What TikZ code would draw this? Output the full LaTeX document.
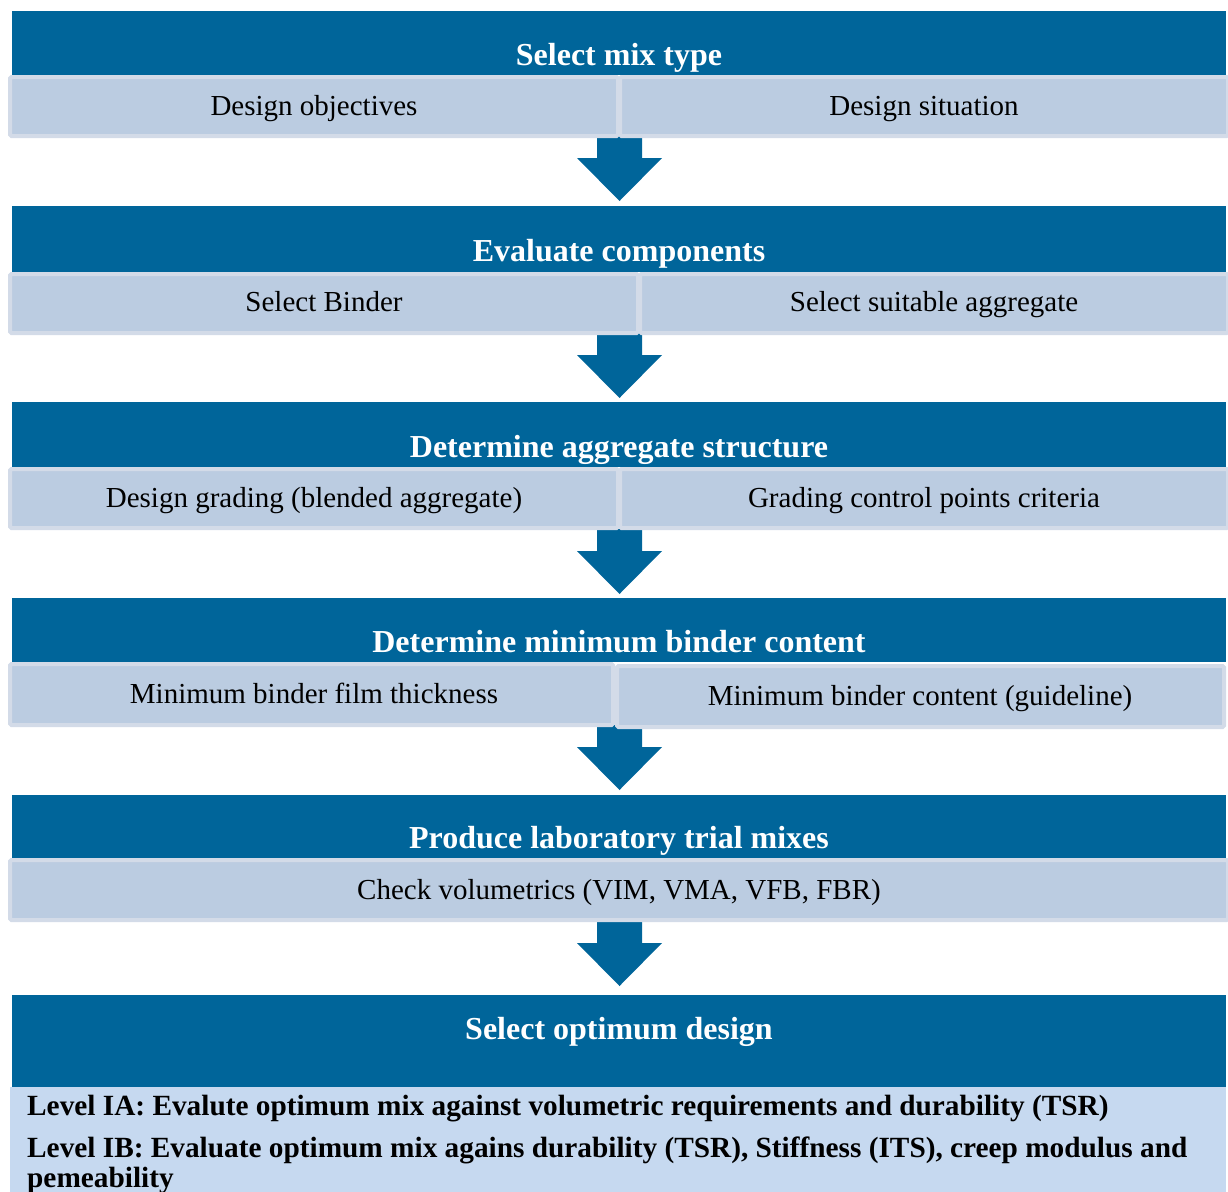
\documentclass[tikz,border=0pt]{standalone}
\usepackage{fontspec}
\setmainfont{Liberation Serif}
\definecolor{hdrblue}{HTML}{00659A}
\definecolor{lightfill}{HTML}{BBCCE1}
\definecolor{lightedge}{HTML}{D3DBE8}
\definecolor{botfill}{HTML}{C6D9F0}
\tikzset{
  hdrbox/.style={fill=hdrblue, draw=none, inner sep=0pt, outer sep=0pt, anchor=north west},
  ttl/.style={text=white, font=\fontsize{32}{38}\selectfont\bfseries, anchor=base, inner sep=0pt},
  subbox/.style={fill=lightfill, draw=lightedge, line width=4pt, inner sep=0pt, outer sep=0pt, anchor=north west, rounded corners=1.5pt, minimum height=59pt},
  body/.style={font=\fontsize{29}{34}\selectfont, anchor=base, inner sep=0pt},
  lvl/.style={font=\fontsize{29.3}{32}\selectfont\bfseries, anchor=base west, inner sep=0pt},
  blk/.style={fill=hdrblue, draw=none},
}
\newcommand\blkarrow[1]{\fill[blk] (#1) ++(-22.5,0) -- ++(45,0) -- ++(0,22) -- ++(20,0) -- ++(-42.5,43) -- ++(-42.5,-43) -- ++(20,0) -- cycle;}
\begin{document}
\begin{tikzpicture}[x=1pt,y=-1pt]
\useasboundingbox (0,0) rectangle (1228,1191);
% arrows (behind boxes)
\coordinate (a1) at (619.5,136);
\coordinate (a2) at (619.5,333);
\coordinate (a3) at (619.5,529);
\coordinate (a4) at (619.5,725);
\coordinate (a5) at (619.5,921);
\blkarrow{a1}
\blkarrow{a2}
\blkarrow{a3}
\blkarrow{a4}
\blkarrow{a5}
% section 1
\node[hdrbox, minimum width=1214pt, minimum height=64pt] (h1) at (12,11) {};
\node[ttl] (t1) at (619,65) {Select mix type};
\node[subbox, minimum width=608pt] (b1l) at (10,77) {};
\node[subbox, minimum width=608pt] (b1r) at (620,77) {};
\node[body] (x1l) at (314,115) {Design objectives};
\node[body] (x1r) at (924,115) {Design situation};
% section 2
\node[hdrbox, minimum width=1214pt, minimum height=66pt] (h2) at (12,206) {};
\node[ttl] (t2) at (619,261) {Evaluate components};
\node[subbox, minimum width=628pt] (b2l) at (10,274) {};
\node[subbox, minimum width=588pt] (b2r) at (640,274) {};
\node[body] (x2l) at (324,311) {Select Binder};
\node[body] (x2r) at (934,311) {Select suitable aggregate};
% section 3
\node[hdrbox, minimum width=1214pt, minimum height=65pt] (h3) at (12,402) {};
\node[ttl] (t3) at (619,457) {Determine aggregate structure};
\node[subbox, minimum width=608pt] (b3l) at (10,469) {};
\node[subbox, minimum width=608pt] (b3r) at (620,469) {};
\node[body] (x3l) at (314,507) {Design grading (blended aggregate)};
\node[body] (x3r) at (924,507) {Grading control points criteria};
% section 4
\node[hdrbox, minimum width=1214pt, minimum height=64pt] (h4) at (12,598) {};
\node[ttl] (t4) at (619,652) {Determine minimum binder content};
\node[subbox, minimum width=603pt, minimum height=61pt] (b4l) at (10,664) {};
\node[subbox, minimum width=607pt, minimum height=61pt] (b4r) at (617,666) {};
\node[body] (x4l) at (314,703) {Minimum binder film thickness};
\node[body] (x4r) at (920,705) {Minimum binder content (guideline)};
% section 5
\node[hdrbox, minimum width=1214pt, minimum height=63pt] (h5) at (12,795) {};
\node[ttl] (t5) at (619,848) {Produce laboratory trial mixes};
\node[subbox, minimum width=1218pt, minimum height=60pt] (b5) at (10,860) {};
\node[body] (x5) at (619,899) {Check volumetrics (VIM, VMA, VFB, FBR)};
% section 6
\node[hdrbox, minimum width=1214pt, minimum height=92pt] (h6) at (12,995) {};
\node[ttl] (t6) at (619,1039) {Select optimum design};
\node[anchor=north west, fill=botfill, draw=none, inner sep=0pt, outer sep=0pt, minimum width=1216pt, minimum height=110pt] (b6) at (10,1087) {};
\node[lvl] (l1) at (27,1115) {Level IA: Evalute optimum mix against volumetric requirements and durability (TSR)};
\node[lvl] (l2) at (27,1157) {Level IB: Evaluate optimum mix agains durability (TSR), Stiffness (ITS), creep modulus and};
\node[lvl] (l3) at (27,1187) {pemeability};
\end{tikzpicture}
\end{document}
